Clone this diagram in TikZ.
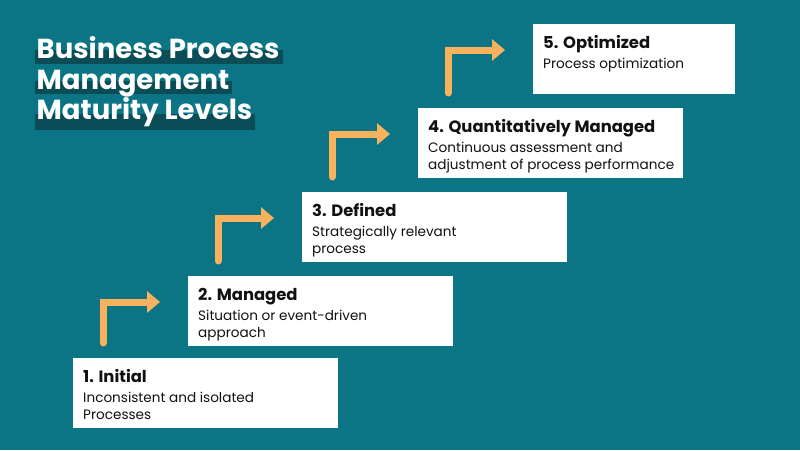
\documentclass[tikz,border=0pt]{standalone}
\usepackage{fontspec}
\setmainfont{Poppins}
\usetikzlibrary{arrows.meta,calc}
\definecolor{bg}{HTML}{0C7585}
\definecolor{hl}{HTML}{0A4D57}
\definecolor{arr}{HTML}{F8B15C}
\definecolor{ink}{HTML}{111111}
\begin{document}
\begin{tikzpicture}[x=1pt,y=-1pt,
  stage/.style={fill=white, draw=none, anchor=north west, inner sep=0pt, minimum width=265pt, minimum height=70pt},
  head/.style={anchor=base west, inner sep=0pt, font=\fontsize{16.4}{19}\selectfont\bfseries, text=ink},
  body/.style={anchor=base west, inner sep=0pt, font=\fontsize{13.6}{16}\selectfont, text=ink},
  ttl/.style={anchor=base west, inner sep=0pt, font=\fontsize{27.5}{30}\selectfont\bfseries, text=white},
  band/.style={fill=hl, draw=none},
  climb/.style={draw=arr, line width=7pt, line cap=round, -{Triangle[length=13pt,width=21pt]}}]
\useasboundingbox[fill=bg] (0,0) rectangle (800,450);
% title
\fill[band] (35,50) rectangle (283,64);
\fill[band] (35,81) rectangle (232,94);
\fill[band] (35,114) rectangle (255,130);
\node[ttl] (t1) at (36.5,58) {Business Process};
\node[ttl] (t2) at (36.5,89) {Management};
\node[ttl] (t3) at (36.5,119) {Maturity Levels};
% stages
\node[stage] (b1) at (73,358) {};
\node[stage] (b2) at (188,276) {};
\node[stage] (b3) at (302,192) {};
\node[stage] (b4) at (418,108) {};
\node[stage, minimum width=202pt] (b5) at (533,24) {};
\foreach \i/\h/\a/\b in {1/{1. Initial}/{Inconsistent and isolated}/{Processes},
  2/{2. Managed}/{Situation or event-driven}/{approach},
  3/{3. Defined}/{Strategically relevant}/{process},
  4/{4. Quantitatively Managed}/{Continuous assessment and}/{adjustment of process performance},
  5/{5. Optimized}/{Process optimization}/{}}{
  \node[head] (h\i) at ($(b\i.north west)+(10,24.7)$) {\h};
  \node[body] (p\i) at ($(h\i.base west)+(0,20)$) {\a};
  \node[body] (q\i) at ($(p\i.base west)+(0,16.8)$) {\b};
}
% arrows
\foreach \i/\j in {1/2,2/3,3/4,4/5}{
  \coordinate (s\i) at ($(b\i.north west)+(30,-15)$);
  \coordinate (e\i) at ($(b\j.north west)+(-28,26)$);
  \draw[climb] (s\i) |- (e\i);
}
\end{tikzpicture}
\end{document}
